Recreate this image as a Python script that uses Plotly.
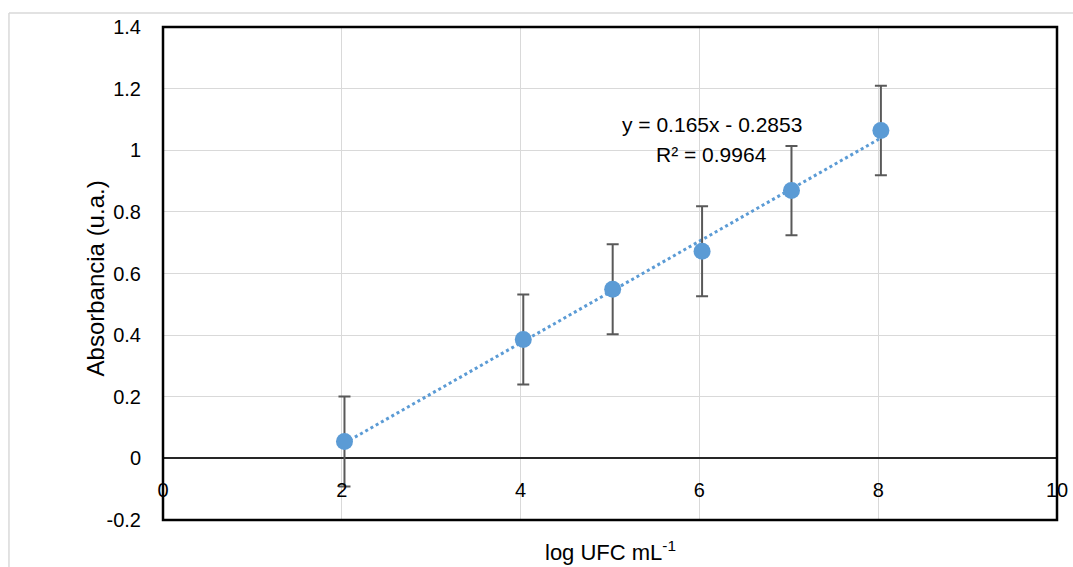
import plotly.graph_objects as go

# ---- data ----
log_ufc = [2.03, 4.03, 5.03, 6.03, 7.03, 8.03]
absorbancia = [0.055, 0.386, 0.549, 0.672, 0.869, 1.064]
error = [0.146, 0.146, 0.146, 0.146, 0.145, 0.145]
slope = 0.165
intercept = -0.2853
r2 = 0.9964

x_ticks = [0, 2, 4, 6, 8, 10]
x_ticktext = ["0", "2", "4", "6", "8", "10"]
y_ticks = [-0.2, 0, 0.2, 0.4, 0.6, 0.8, 1.0, 1.2, 1.4]
y_ticktext = ["-0.2", "0", "0.2", "0.4", "0.6", "0.8", "1", "1.2", "1.4"]

FONT = "Liberation Sans"
BLUE = "#5B9BD5"

trend_x = [min(log_ufc), max(log_ufc)]
trend_y = [slope * v + intercept for v in trend_x]

fig = go.Figure()
fig.add_trace(go.Scatter(
    x=trend_x, y=trend_y, mode="lines",
    line=dict(color=BLUE, width=3, dash="dot"),
    hoverinfo="skip", showlegend=False))
fig.add_trace(go.Scatter(
    x=log_ufc, y=absorbancia, mode="markers",
    marker=dict(color=BLUE, size=17),
    error_y=dict(type="data", array=error, visible=True,
                 color="#595959", thickness=2, width=6),
    showlegend=False))

fig.update_layout(
    width=1073, height=567,
    margin=dict(l=163, r=16, t=27, b=47),
    paper_bgcolor="white", plot_bgcolor="white",
    font=dict(family=FONT, size=20, color="black"),
    xaxis=dict(range=[0, 10], tickvals=x_ticks, ticktext=x_ticktext,
               showgrid=True, gridcolor="#d9d9d9", gridwidth=1,
               anchor="free", position=0.125, showline=False,
               zeroline=False, ticks="", ticklabelstandoff=18,
               automargin=False,
               tickfont=dict(family=FONT, size=20)),
    yaxis=dict(range=[-0.2, 1.4], tickvals=y_ticks, ticktext=y_ticktext,
               showgrid=True, gridcolor="#d9d9d9", gridwidth=1,
               zeroline=True, zerolinecolor="#262626", zerolinewidth=2,
               showline=False, ticks="", ticklabelstandoff=21,
               automargin=False,
               tickfont=dict(family=FONT, size=20)),
    shapes=[
        dict(type="rect", xref="paper", yref="paper", x0=0, y0=0, x1=1, y1=1,
             line=dict(color="black", width=2.5), layer="above"),
        dict(type="line", xref="paper", yref="paper",
             x0=-0.1723, x1=-0.1723, y0=-0.2, y1=1.0284,
             line=dict(color="#d9d9d9", width=1.5)),
        dict(type="line", xref="paper", yref="paper",
             x0=-0.1723, x1=1.1, y0=1.0284, y1=1.0284,
             line=dict(color="#d9d9d9", width=1.5)),
    ],
    annotations=[
        dict(x=6.14, y=1.084, xref="x", yref="y", showarrow=False,
             text=f"y = {slope}x - {abs(intercept)}", font=dict(size=21)),
        dict(x=6.14, y=0.987, xref="x", yref="y", showarrow=False,
             text=f"R² = {r2}", font=dict(size=21)),
        dict(x=0.5, y=-0.0629, xref="paper", yref="paper", showarrow=False,
             yanchor="middle", text="log UFC mL<sup>-1</sup>", font=dict(size=22)),
        dict(x=-0.0928, y=0.489, xref="paper", yref="paper", showarrow=False,
             textangle=-90, text="Absorbancia (u.a.)", font=dict(size=24)),
    ],
)

fig.write_html("out.html")
